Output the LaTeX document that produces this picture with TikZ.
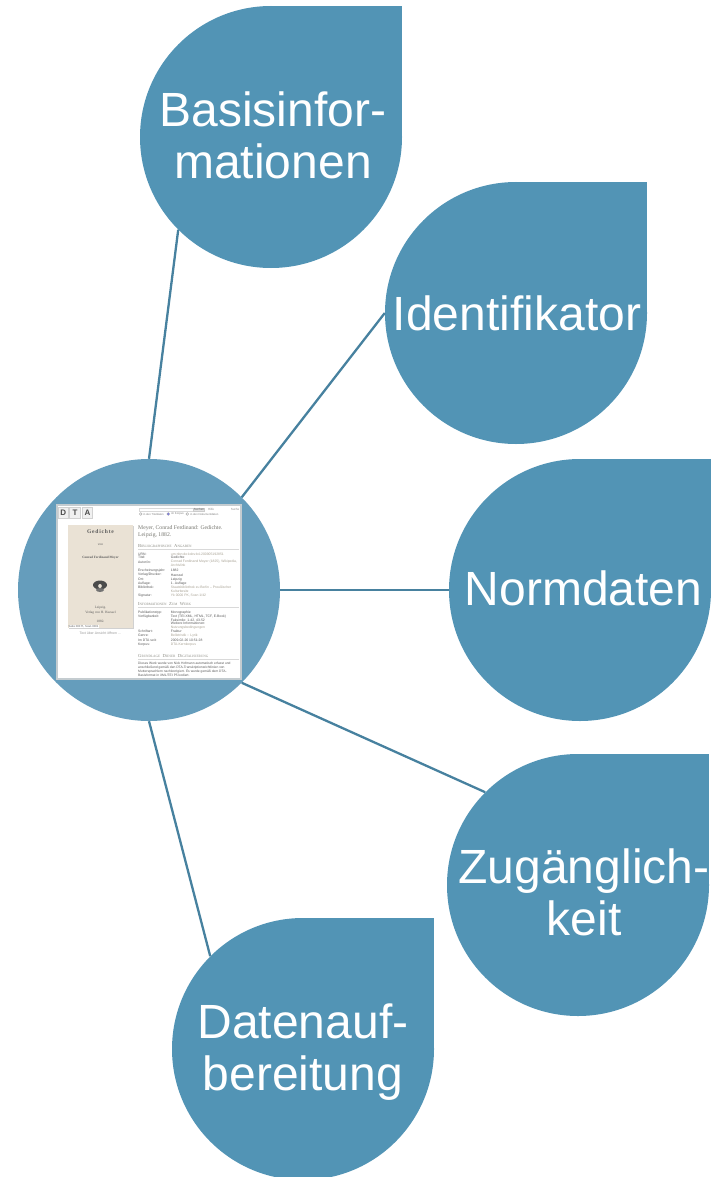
\documentclass[tikz,border=0pt]{standalone}
\usepackage{fontspec}
\setmainfont{Liberation Sans}
\newfontfamily\serifface{Liberation Serif}
\definecolor{dropblue}{HTML}{5294B5}
\definecolor{hubblue}{HTML}{659DBC}
\definecolor{linkblue}{HTML}{47819F}
\definecolor{shotframe}{HTML}{C4CCD0}
\definecolor{coverbeige}{HTML}{EAE2D5}
\definecolor{bodygrey}{HTML}{5A5A5A}
\definecolor{linkgrey}{HTML}{A8A294}
\definecolor{headgrey}{HTML}{8C8C84}
\newcommand{\zeile}[4]{%
  \node[rowtext,text=bodygrey] (#1a) at (138,#2) {#3};
  \node[rowtext,text=linkgrey] (#1b) at (170.7,#2) {#4};}
\newcommand{\kapit}[2]{{\fontsize{4.6}{5}\selectfont #1}{\fontsize{3.4}{5}\selectfont #2}}
\tikzset{
  x=1pt,y=-1pt,
  bubble/.style={circle,fill=dropblue,minimum size=262pt,inner sep=0pt},
  bubbletext/.style={inner sep=0pt,text=white,align=center,font=\fontsize{48}{52}\selectfont},
  corner/.style={fill=dropblue},
  hub/.style={circle,fill=hubblue,minimum size=262pt,inner sep=0pt},
  link/.style={draw=linkblue,line width=2.3pt},
  rowtext/.style={anchor=west,inner sep=0pt,font=\fontsize{3.4}{4}\selectfont},
  sechead/.style={anchor=west,inner sep=0pt,text=headgrey,font=\serifface},
  covertext/.style={inner sep=0pt,text=bodygrey,font=\fontsize{3.4}{4}\selectfont\serifface},
  logobox/.style={draw=black!18,fill=black!6,line width=0.6pt,minimum width=10.5pt,minimum height=10.5pt,
    inner sep=0pt,text=black!70,font=\fontsize{8}{8}\selectfont\bfseries},
  radio/.style={circle,draw=black!40,line width=0.3pt,minimum size=2.8pt,inner sep=0pt},
}
\begin{document}
\begin{tikzpicture}
\useasboundingbox (0,0) rectangle (710,1177);
% square corners of the drops
\fill[corner] (271,6) rectangle (402,137);
\fill[corner] (516,182) rectangle (647,313);
\fill[corner] (580,459) rectangle (711,590);
\fill[corner] (578,754) rectangle (709,885);
\fill[corner] (303,918) rectangle (434,1049);
% nodes
\node[bubble] (basis) at (271,137) {};
\node[bubble] (ident) at (516,313) {};
\node[bubble] (norm) at (580,590) {};
\node[bubble] (zug) at (578,885) {};
\node[bubble] (daten) at (303,1049) {};
\node[hub] (hub) at (149,590) {};
\node[bubbletext] (basislbl) at (273,135) {Basisinfor-\\mationen};
\node[bubbletext] (identlbl) at (517,313.5) {Identifikator};
\node[bubbletext] (normlbl) at (583.5,588.5) {Normdaten};
\node[bubbletext] (zuglbl) at (584,892) {Zugänglich-\\keit};
\node[bubbletext] (datenlbl) at (303,1052) {Datenauf-\\bereitung};
% connectors
\draw[link] (hub.90) -- (basis.225);
\draw[link] (hub.45) -- (ident.180);
\draw[link] (hub.0) -- (norm.180);
\draw[link] (hub.-45) -- (zug.135);
\draw[link] (hub.270) -- (daten.135);
% screenshot
\fill[white,draw=shotframe,line width=2pt] (57,505) rectangle (241,679);
\node[logobox] (logoD) at (63.3,512.8) {D};
\node[logobox] (logoT) at (75,512.8) {T};
\node[logobox] (logoA) at (87.5,512.8) {A};
\draw[black!15,line width=0.3pt] (139,508) rectangle (193,511);
\node[draw=black!20,fill=black!10,inner sep=0.6pt,text=black!60,font=\fontsize{3}{3}\selectfont] (searchbtn) at (199,509.5) {Suchen};
\node[text=black!45,inner sep=0pt,font=\fontsize{3}{3}\selectfont] (help) at (211,509.5) {Hilfe};
\node[text=black!45,inner sep=0pt,font=\fontsize{3}{3}\selectfont] (searchlbl) at (235,509) {Suche};
\node[radio] (r1) at (140.7,514) {};
\node[radio,fill=blue!55] (r2) at (168.3,514) {};
\node[radio] (r3) at (187.3,514) {};
\node[rowtext,text=black!50,font=\fontsize{2.8}{3}\selectfont] (r1t) at (143,514) {in den Titeldaten};
\node[rowtext,text=black!50,font=\fontsize{2.8}{3}\selectfont] (r2t) at (171,514) {im Korpus};
\node[rowtext,text=black!50,font=\fontsize{2.8}{3}\selectfont] (r3t) at (190,514) {in den Dokumentdaten};
% book cover
\fill[black!18] (69,526) rectangle (134,629);
\fill[coverbeige] (68,525) rectangle (133,628);
\node[covertext,font=\fontsize{5.6}{7}\selectfont\serifface\bfseries\addfontfeature{LetterSpace=14}] (covtitle) at (100.5,532) {Gedichte};
\node[covertext] (covvon) at (100.5,545) {von};
\node[covertext,font=\fontsize{3.3}{4}\selectfont\serifface\bfseries] (covauth) at (100.5,558) {Conrad Ferdinand Meyer};
\fill[black!70] (100,585) ellipse (7pt and 4.5pt);
\fill[black!55] (100,590) ellipse (4pt and 2pt);
\fill[coverbeige] (100,586) ellipse (1.8pt and 2pt);
\node[covertext] (covort) at (100.5,608) {Leipzig.};
\node[covertext] (covverl) at (100.5,612.5) {Verlag von H. Haessel};
\node[covertext] (covjahr) at (100.5,621) {1882.};
\node[rowtext,fill=white,text=bodygrey,font=\fontsize{2.8}{3}\selectfont] (covcap) at (68.5,626.3) {Seite 000 ff., Scan 0001};
\node[text=black!40,inner sep=0pt,font=\fontsize{3.5}{4}\selectfont] (coverlink) at (100.5,633.5) {Text über Ansicht öffnen …};
% right column
\node[anchor=west,inner sep=0pt,text=headgrey!85!black,font=\fontsize{5.7}{7}\selectfont\serifface] (title1) at (138,527.7) {Meyer, Conrad Ferdinand: Gedichte.};
\node[anchor=west,inner sep=0pt,text=headgrey!85!black,font=\fontsize{5.7}{7}\selectfont\serifface] (title2) at (138,535) {Leipzig, 1882.};
\node[sechead] (sec1) at (138,545.7) {\kapit{B}{IBLIOGRAPHISCHE} \kapit{A}{NGABEN}};
\draw[black!15,line width=0.4pt] (138,549) -- (239,549);
\zeile{a}{554}{URN:}{urn:nbn:de:kobv:b4-200905192851}
\zeile{b}{557.7}{Titel:}{\textcolor{bodygrey}{Gedichte}}
\zeile{c}{562}{Autor/in:}{Conrad Ferdinand Meyer (1825), Wikipedia,}
\node[rowtext,text=linkgrey] (c2) at (170.7,565.7) {Archivlink};
\zeile{d}{570.7}{Erscheinungsjahr:}{\textcolor{bodygrey}{1882}}
\zeile{e}{575}{Verlag/Drucker:}{\textcolor{bodygrey}{Haessel}}
\zeile{f}{579.3}{Ort:}{\textcolor{bodygrey}{Leipzig}}
\zeile{g}{583.3}{Auflage:}{\textcolor{bodygrey}{1. Auflage}}
\zeile{h}{587.7}{Bibliothek:}{Staatsbibliothek zu Berlin – Preußischer}
\node[rowtext,text=linkgrey] (h2) at (170.7,591.3) {Kulturbesitz};
\zeile{i}{595.3}{Signatur:}{Yk 0000 PK, Scan 1/42}
\node[sechead] (sec2) at (138,604) {\kapit{I}{NFORMATIONEN} \kapit{Z}{UM} \kapit{W}{ERK}};
\draw[black!15,line width=0.4pt] (138,607.5) -- (239,607.5);
\zeile{j}{612.3}{Publikationstyp:}{\textcolor{bodygrey}{Monographie}}
\zeile{k}{616.7}{Verfügbarkeit:}{\textcolor{bodygrey}{Text (TEI-XML, HTML, TCF, E-Book)}}
\node[rowtext,text=bodygrey] (k2) at (170.7,620.3) {Faksimile: 1-42, 43-52};
\node[rowtext,text=bodygrey] (k3) at (170.7,623.5) {Weitere Informationen:};
\node[rowtext,text=linkgrey] (k4) at (170.7,627.3) {Nutzungsbedingungen};
\zeile{l}{631.3}{Schriftart:}{\textcolor{bodygrey}{Fraktur}}
\zeile{m}{635.7}{Genre:}{Belletristik :: Lyrik}
\zeile{n}{640.3}{Im DTA seit:}{\textcolor{bodygrey}{2009-02-26 10:51:28}}
\zeile{o}{644.7}{Korpus:}{DTA-Kernkorpus}
\node[sechead] (sec3) at (138,655.7) {\kapit{G}{RUNDLAGE} \kapit{D}{IESER} \kapit{D}{IGITALISIERUNG}};
\draw[black!15,line width=0.4pt] (138,659.5) -- (239,659.5);
\node[rowtext,text=bodygrey,font=\fontsize{3.3}{4}\selectfont] (p1) at (138,663.3) {Dieses Werk wurde von Nick Hofmann automatisch erfasst und};
\node[rowtext,text=bodygrey,font=\fontsize{3.3}{4}\selectfont] (p2) at (138,667.3) {anschließend gemäß den DTA-Transkriptionsrichtlinien von};
\node[rowtext,text=bodygrey,font=\fontsize{3.3}{4}\selectfont] (p3) at (138,671.3) {Muttersprachlern nachkorrigiert. Es wurde gemäß dem DTA-};
\node[rowtext,text=bodygrey,font=\fontsize{3.3}{4}\selectfont] (p4) at (138,675.3) {Basisformat in XML/TEI P5 kodiert.};
\end{tikzpicture}
\end{document}
